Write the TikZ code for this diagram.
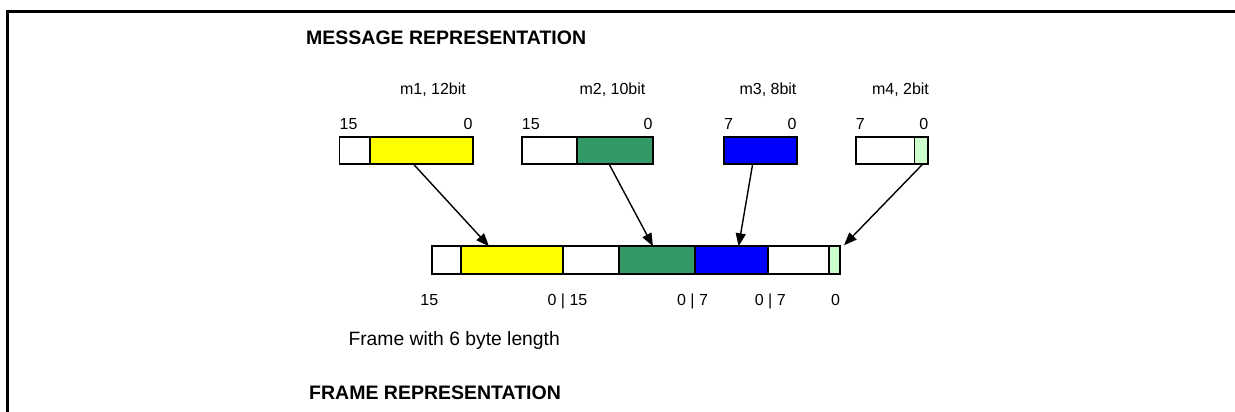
\documentclass[tikz,border=0pt]{standalone}
\usepackage{fontspec}
\setmainfont{Liberation Sans}
\usetikzlibrary{arrows.meta,calc}

\definecolor{segyellow}{HTML}{FFFF00}
\definecolor{seggreen}{HTML}{339966}
\definecolor{segblue}{HTML}{0000FF}
\definecolor{seglight}{HTML}{CCFFCC}

\tikzset{
  seg/.style={draw=black, line width=1.9pt, inner sep=0pt, outer sep=0pt,
              anchor=north west, fill=white},
  msgrow/.style={seg, minimum height=27.3pt},
  frmrow/.style={seg, minimum height=28pt},
  heading/.style={font=\fontsize{19.5}{23}\selectfont\bfseries, anchor=base west, inner sep=0pt},
  bodytext/.style={font=\fontsize{19.3}{23}\selectfont, anchor=base west, inner sep=0pt},
  smalltext/.style={font=\fontsize{16}{19}\selectfont, inner sep=0pt},
  mapping/.style={line width=1.4pt, -{Triangle[length=13pt,width=10pt]}},
  border/.style={line width=3pt}
}

\begin{document}
\begin{tikzpicture}[x=1pt,y=-1pt]
  \useasboundingbox (0,0) rectangle (1235,412);

  % outer border (top and left edges)
  \coordinate (bl) at (7.3,412);
  \coordinate (tr) at (1235,11.3);
  \draw[border] (bl) |- (tr);

  % headings
  \node[heading] (hmsg) at (306,45) {MESSAGE REPRESENTATION};
  \node[heading] (hfrm) at (309,399) {FRAME REPRESENTATION};
  \node[bodytext] (flen) at (348.3,345) {Frame with 6 byte length};

  % ---- messages ----
  \node[msgrow, minimum width=30.5pt] (m1a) at (339.5,136.7) {};
  \node[msgrow, minimum width=102.7pt, fill=segyellow] (m1b) at (370,136.7) {};

  \node[msgrow, minimum width=55pt] (m2a) at (521.7,136.7) {};
  \node[msgrow, minimum width=75.9pt, fill=seggreen] (m2b) at (576.7,136.7) {};

  \node[msgrow, minimum width=72.7pt, fill=segblue] (m3) at (724,136.7) {};

  \node[msgrow, minimum width=58.8pt] (m4a) at (855.7,136.7) {};
  \node[msgrow, minimum width=13.9pt, fill=seglight] (m4b) at (914.5,136.7) {};

  % message names
  \node[smalltext, anchor=base] (l1) at (433,95) {m1, 12bit};
  \node[smalltext, anchor=base] (l2) at (612.5,95) {m2, 10bit};
  \node[smalltext, anchor=base] (l3) at (768,95) {m3, 8bit};
  \node[smalltext, anchor=base] (l4) at (900.5,95) {m4, 2bit};

  % bit indices of the messages
  \node[smalltext, anchor=base west] (b1h) at (339.5,129.3) {15};
  \node[smalltext, anchor=base east] (b1l) at (472.7,129.3) {0};
  \node[smalltext, anchor=base west] (b2h) at (521.7,129.3) {15};
  \node[smalltext, anchor=base east] (b2l) at (652.6,129.3) {0};
  \node[smalltext, anchor=base west] (b3h) at (724,129.3) {7};
  \node[smalltext, anchor=base east] (b3l) at (796.7,129.3) {0};
  \node[smalltext, anchor=base west] (b4h) at (855.7,129.3) {7};
  \node[smalltext, anchor=base east] (b4l) at (928.4,129.3) {0};

  % ---- frame ----
  \node[frmrow, minimum width=28.7pt] (f1) at (432,246.3) {};
  \node[frmrow, minimum width=102.6pt, fill=segyellow] (f2) at (460.7,246.3) {};
  \node[frmrow, minimum width=55.7pt] (f3) at (563.3,246.3) {};
  \node[frmrow, minimum width=76pt, fill=seggreen] (f4) at (619,246.3) {};
  \node[frmrow, minimum width=73.3pt, fill=segblue] (f5) at (695,246.3) {};
  \node[frmrow, minimum width=60.7pt] (f6) at (768.3,246.3) {};
  \node[frmrow, minimum width=11pt, fill=seglight] (f7) at (829,246.3) {};

  % bit indices of the frame
  \node[smalltext, anchor=base] (fb1) at (429.3,305) {15};
  \node[smalltext, anchor=base] (fb2) at (567.5,305) {0 | 15};
  \node[smalltext, anchor=base] (fb3) at (692.5,305) {0 | 7};
  \node[smalltext, anchor=base] (fb4) at (770.3,305) {0 | 7};
  \node[smalltext, anchor=base] (fb5) at (835.6,305) {0};

  % mapping of messages into the frame
  \coordinate (t4) at ($(f7.north east)+(4,-1)$);
  \draw[mapping] ($(m1b.south)+(-8,0)$) -- ($(f2.north)+(-23,0)$);
  \draw[mapping] ($(m2b.south)+(-5.6,0)$) -- ($(f4.north)+(-4,0)$);
  \draw[mapping] ($(m3.south)+(-7.7,0)$) -- ($(f5.north)+(6.9,0)$);
  \draw[mapping] ($(m4b.south)+(1.4,0)$) -- (t4);
\end{tikzpicture}
\end{document}
